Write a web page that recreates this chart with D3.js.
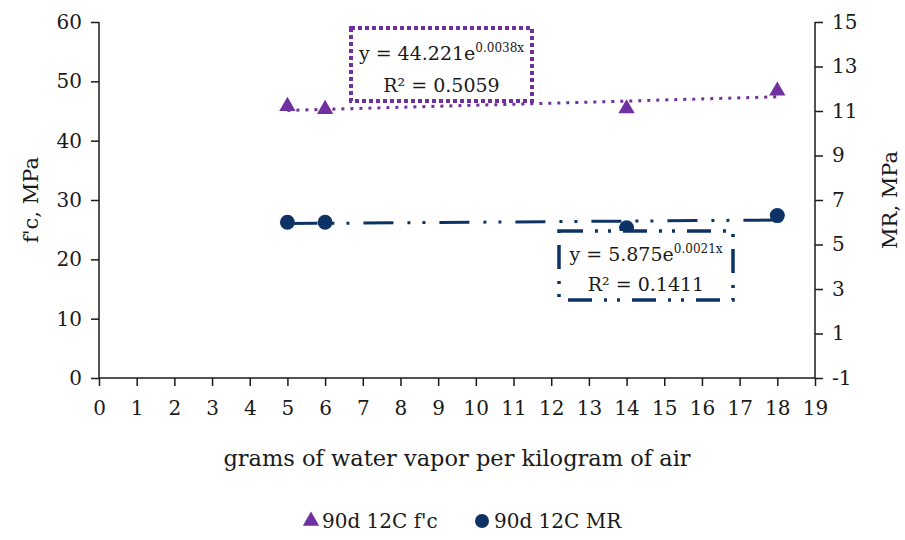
<!DOCTYPE html>
<html>
<head>
<meta charset="utf-8">
<script src="https://cdn.jsdelivr.net/npm/d3@7"></script>
<style>
  body { margin: 0; background: #fff; }
  text { font-family: "DejaVu Serif", "Liberation Serif", serif; fill: #1a1a1a; }
</style>
</head>
<body>
<div id="chart"></div>
<script>
// data
var xValues = [5, 6, 14, 18];
var fcValues = [45.8, 45.3, 45.4, 48.4];
var mrValues = [6.0, 6.0, 5.75, 6.3];

// trend lines (exponential fits), read at a few x positions
var trendX = [5, 9, 13, 18];
var fcTrend = [45.1, 45.8, 46.5, 47.4];
var mrTrend = [5.94, 5.99, 6.04, 6.10];

var xTicks = d3.range(0, 20);
var leftTicks = [0, 10, 20, 30, 40, 50, 60];
var rightTicks = [-1, 1, 3, 5, 7, 9, 11, 13, 15];

var fcColor = "#7030a0";
var mrColor = "#0d3366";

var svgWidth = 905, svgHeight = 540;
var margin = { top: 22, right: 90, bottom: 162, left: 99 };
var width = svgWidth - margin.left - margin.right;
var height = svgHeight - margin.top - margin.bottom;

var svg = d3.select("#chart")
  .append("svg")
  .attr("width", svgWidth)
  .attr("height", svgHeight);

var chartGroup = svg.append("g")
  .attr("transform", `translate(${margin.left}, ${margin.top})`);

var xScale = d3.scaleLinear().domain([0, 19]).range([0, width]);
var yLeft = d3.scaleLinear().domain([0, 60]).range([height, 0]);
var yRight = d3.scaleLinear().domain([-1, 15]).range([height, 0]);

// axes
var plain = d => String(d);
var bottomAxis = d3.axisBottom(xScale).tickValues(xTicks).tickFormat(plain).tickSize(8).tickPadding(11);
var leftAxis = d3.axisLeft(yLeft).tickValues(leftTicks).tickFormat(plain).tickSize(8).tickPadding(9);
var rightAxis = d3.axisRight(yRight).tickValues(rightTicks).tickFormat(plain).tickSize(8).tickPadding(9);

function styleAxis(g) {
  g.select(".domain").attr("stroke", "#1a1a1a").attr("stroke-width", 1.5);
  g.selectAll(".tick line").attr("stroke", "#1a1a1a").attr("stroke-width", 1.5);
  g.selectAll(".tick text").style("font-size", "20px").attr("fill", "#1a1a1a")
    .style("font-family", "DejaVu Serif, serif");
}

chartGroup.append("g")
  .attr("transform", `translate(0, ${height})`)
  .call(bottomAxis)
  .call(g => g.select(".domain").attr("d", `M0,0H${width}`))
  .call(styleAxis)
  .call(g => g.selectAll(".tick text").attr("dy", "0.9em"));

chartGroup.append("g")
  .call(leftAxis)
  .call(g => g.select(".domain").attr("d", `M0,0V${height}`))
  .call(styleAxis);

chartGroup.append("g")
  .attr("transform", `translate(${width}, 0)`)
  .call(rightAxis)
  .call(g => g.select(".domain").attr("d", `M0,0V${height}`))
  .call(styleAxis);

// trend lines
var fcLine = d3.line().x((d, i) => xScale(trendX[i])).y(d => yLeft(d)).curve(d3.curveMonotoneX);
var mrLine = d3.line().x((d, i) => xScale(trendX[i])).y(d => yRight(d)).curve(d3.curveMonotoneX);

chartGroup.append("path")
  .datum(fcTrend)
  .attr("d", fcLine)
  .attr("fill", "none")
  .attr("stroke", fcColor)
  .attr("stroke-width", 3)
  .attr("stroke-dasharray", "3,6");

chartGroup.append("path")
  .datum(mrTrend)
  .attr("d", mrLine)
  .attr("fill", "none")
  .attr("stroke", mrColor)
  .attr("stroke-width", 3)
  .attr("stroke-dasharray", "30,14,3,12,3,14");

// equation boxes
function eqBox(x, y, w, h, color, dash, sw, line1, sup, line2, b1, b2) {
  svg.append("rect")
    .attr("x", x).attr("y", y).attr("width", w).attr("height", h)
    .attr("fill", "#fff")
    .attr("stroke", color)
    .attr("stroke-width", sw)
    .attr("stroke-dasharray", dash);
  var t1 = svg.append("text")
    .attr("x", x + w / 2).attr("y", y + b1)
    .attr("text-anchor", "middle")
    .style("font-size", "19px");
  t1.append("tspan").text(line1);
  t1.append("tspan").attr("dy", "-8").style("font-size", "12px").text(sup);
  svg.append("text")
    .attr("x", x + w / 2).attr("y", y + b2)
    .attr("text-anchor", "middle")
    .style("font-size", "19px")
    .text(line2);
}

eqBox(351, 28, 181, 73, fcColor, "4,3", 4, "y = 44.221e", "0.0038x", "R\u00b2 = 0.5059", 32, 64);
eqBox(559, 231, 174, 69, mrColor, "24,12,3,10,3,12", 3.5, "y = 5.875e", "0.0021x", "R\u00b2 = 0.1411", 30, 60);

// markers
var tri = d3.symbol().type(d3.symbolTriangle).size(115);

chartGroup.selectAll(".fc")
  .data(fcValues)
  .enter()
  .append("path")
  .attr("class", "fc")
  .attr("d", tri)
  .attr("transform", (d, i) => `translate(${xScale(xValues[i])}, ${yLeft(d)})`)
  .attr("fill", fcColor);

chartGroup.selectAll(".mr")
  .data(mrValues)
  .enter()
  .append("circle")
  .attr("class", "mr")
  .attr("cx", (d, i) => xScale(xValues[i]))
  .attr("cy", d => yRight(d))
  .attr("r", 7.5)
  .attr("fill", mrColor);

// axis titles
svg.append("text")
  .attr("transform", `translate(38, ${margin.top + height / 2}) rotate(-90)`)
  .attr("text-anchor", "middle")
  .style("font-size", "21px")
  .text("f'c, MPa");

svg.append("text")
  .attr("transform", `translate(897, ${margin.top + height / 2}) rotate(-90)`)
  .attr("text-anchor", "middle")
  .style("font-size", "21px")
  .text("MR, MPa");

svg.append("text")
  .attr("x", margin.left + width / 2)
  .attr("y", 466)
  .attr("text-anchor", "middle")
  .style("font-size", "22.5px")
  .text("grams of water vapor per kilogram of air");

// legend
var legend = svg.append("g");
legend.append("path")
  .attr("d", tri)
  .attr("transform", "translate(311, 521)")
  .attr("fill", fcColor);
legend.append("text")
  .attr("x", 322).attr("y", 528)
  .style("font-size", "20px")
  .text("90d 12C f'c");
legend.append("circle")
  .attr("cx", 482).attr("cy", 521).attr("r", 7)
  .attr("fill", mrColor);
legend.append("text")
  .attr("x", 494).attr("y", 528)
  .style("font-size", "20px")
  .text("90d 12C MR");
</script>
</body>
</html>
